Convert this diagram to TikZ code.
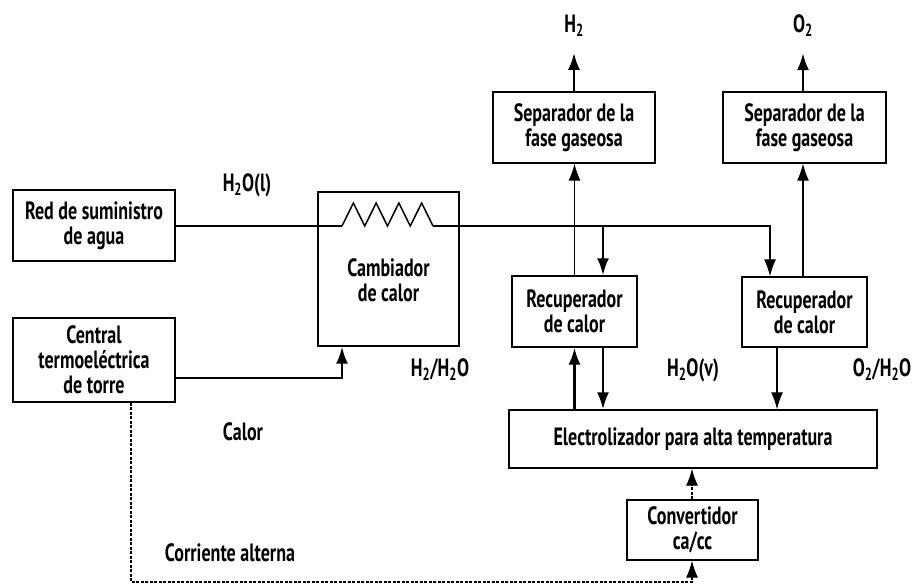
\documentclass[tikz,border=0pt]{standalone}
\usepackage{fontspec}
\setmainfont[FakeStretch=0.72]{PT Sans}
\usetikzlibrary{arrows.meta}
\tikzset{
  txt/.style={font=\fontsize{25}{25}\selectfont\bfseries},
  box/.style={draw, line width=1.4pt, align=center, inner sep=0pt, txt},
  lbl/.style={inner sep=0pt, txt},
  arr/.style={-{Latex[length=17pt,width=12pt]}},
  thin/.style={line width=1.2pt},
  heavy/.style={line width=2.4pt},
  elec/.style={dash pattern=on 3pt off 1.5pt, line width=1.1pt}
}
\begin{document}
\begin{tikzpicture}[x=1pt,y=-1pt]
\useasboundingbox (0,0) rectangle (917,587);
% boxes
\node[box, minimum width=162pt, minimum height=71pt] (red) at (94,225.5) {Red de suministro\\de agua};
\node[box, minimum width=162pt, minimum height=84pt] (cen) at (94,360) {Central\\termoeléctrica\\de torre};
\node[box, minimum width=141pt, minimum height=154pt] (cam) at (388.5,269) {};
\node[lbl, align=center] (camtxt) at (388.5,280) {Cambiador\\de calor};
\node[box, minimum width=162pt, minimum height=71pt] (sep1) at (574,127.5) {Separador de la\\fase gaseosa};
\node[box, minimum width=163pt, minimum height=71pt] (sep2) at (804.5,127.5) {Separador de la\\fase gaseosa};
\node[box, minimum width=125pt, minimum height=71pt] (rec1) at (574.5,311.5) {Recuperador\\de calor};
\node[box, minimum width=125pt, minimum height=70pt] (rec2) at (804.5,312) {Recuperador\\de calor};
\node[box, minimum width=368pt, minimum height=58pt] (ele) at (693,439) {Electrolizador para alta temperatura};
\node[box, minimum width=131pt, minimum height=60pt] (conv) at (692.5,530) {Convertidor\\ca/cc};
% labels
\node[lbl] (h2) at (574,26) {H\textsubscript{2}};
\node[lbl] (o2) at (803,26) {O\textsubscript{2}};
\node[lbl] (lh2ol) at (247,185) {H\textsubscript{2}O(l)};
\node[lbl] (lh2h2o) at (440,370) {H\textsubscript{2}/H\textsubscript{2}O};
\node[lbl] (lh2ov) at (693,370) {H\textsubscript{2}O(v)};
\node[lbl] (lo2h2o) at (882,370) {O\textsubscript{2}/H\textsubscript{2}O};
\node[lbl] (lcalor) at (243,432) {Calor};
\node[lbl] (lcorr) at (230,553) {Corriente alterna};
% coordinates
\coordinate (zs) at (342,226);
\coordinate (ze) at (433,226);
\coordinate (j1) at (603,226);
\coordinate (j2) at (770,226);
\coordinate (dc) at (692,582);
% water line and heat exchanger coil
\draw[thin] (red.east |- zs) -- (zs);
\draw[line width=1.5pt, line join=miter] (zs) -- ++(11.375,-23) -- ++(11.375,23) -- ++(11.375,-23) -- ++(11.375,23)
  -- ++(11.375,-23) -- ++(11.375,23) -- ++(11.375,-23) -- (ze);
\draw[heavy] (ze) -- (j1);
\draw[heavy, arr] (j1) -- (j1 |- rec1.north);
\draw[thin, arr] (j1) -- (j2) -- (j2 |- rec2.north);
% upward flows
\draw[thin, arr] (rec1.north) -- (rec1.north |- sep1.south);
\draw[thin, arr] (rec2.north -| o2) -- (o2 |- sep2.south);
\draw[heavy, arr] (sep1.north) -- ([yshift=-16pt]h2.south);
\draw[heavy, arr] (sep2.north -| o2) -- ([yshift=-16pt]o2.south);
% electrolyzer connections
\draw[heavy, arr] (ele.north -| rec1.south) -- (rec1.south);
\draw[heavy, arr] (rec1.south -| j1) -- (ele.north -| j1);
\draw[thin, arr] ([xshift=-27.5pt]rec2.south) -- ([xshift=-27.5pt]rec2.south |- ele.north);
\draw[elec, arr] (conv.north -| dc) -- (ele.south -| dc);
% heat from tower
\draw[heavy, arr] ([yshift=-18pt]cen.east) -| (cam.south -| zs);
% electricity
\draw[elec, arr] ([xshift=37pt]cen.south) |- (dc) -- (conv.south -| dc);
\end{tikzpicture}
\end{document}
